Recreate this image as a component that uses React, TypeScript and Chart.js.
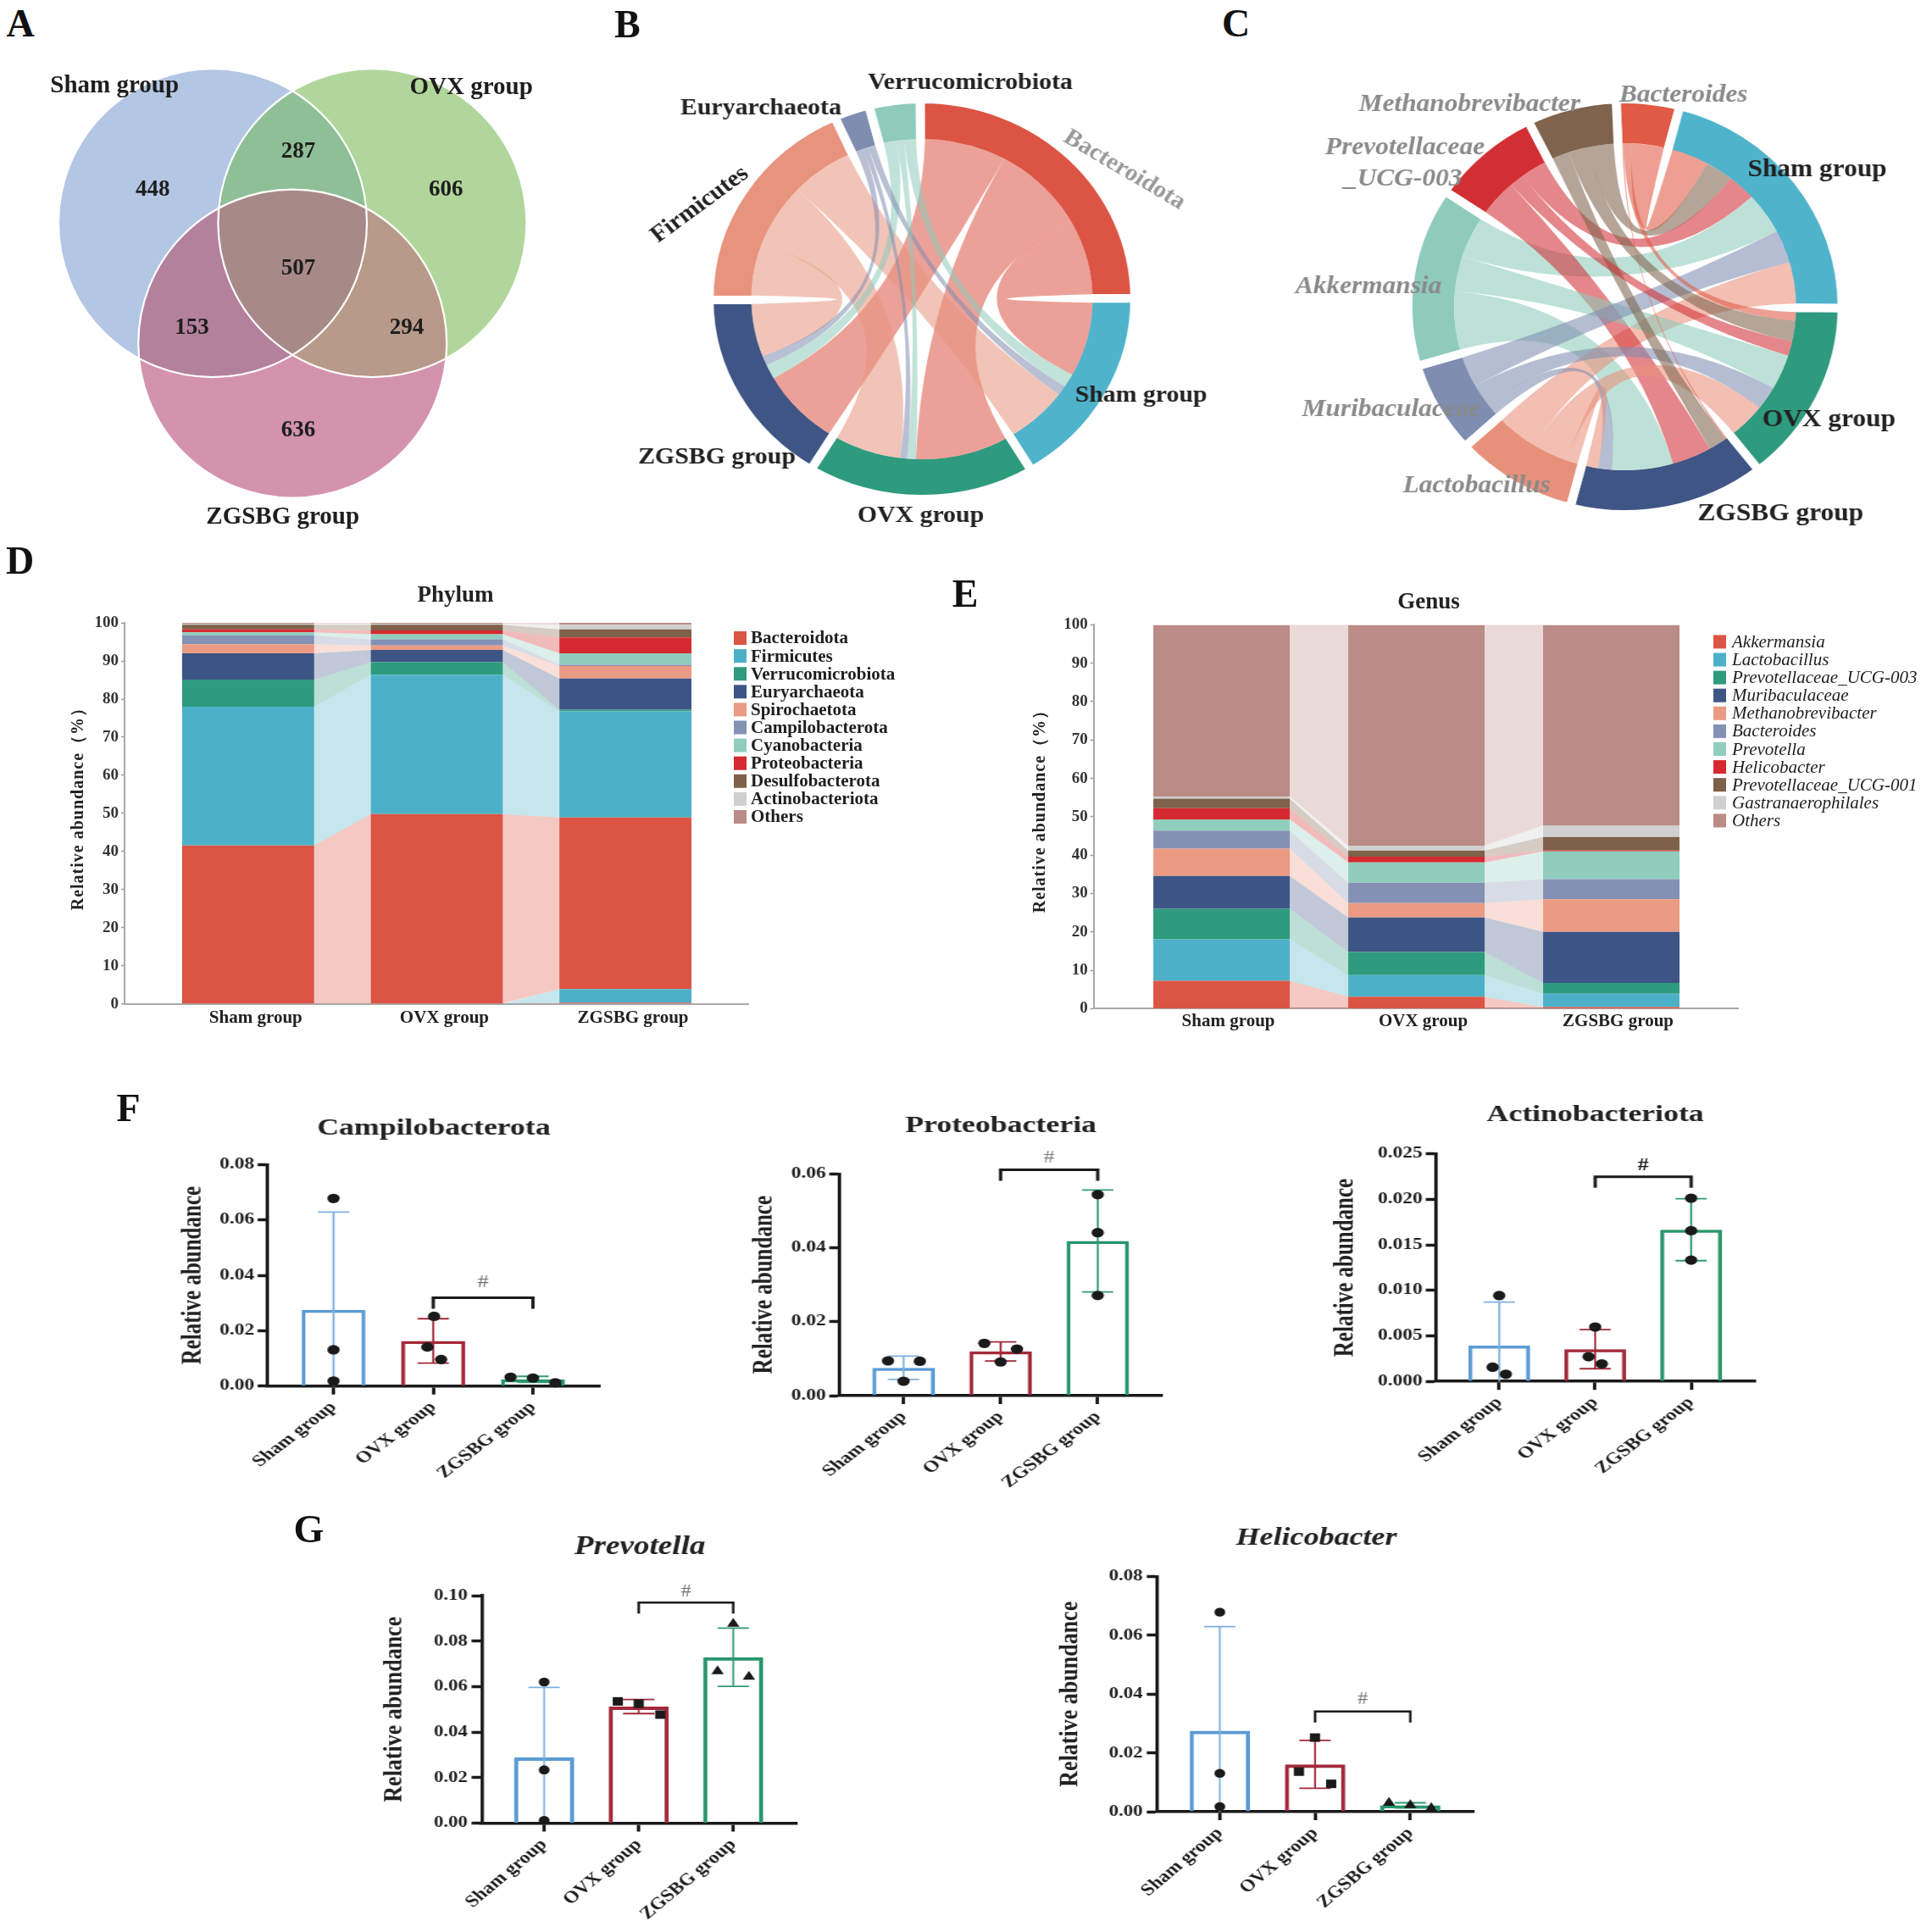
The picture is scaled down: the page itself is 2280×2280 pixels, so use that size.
import React, { useEffect, useRef } from "react";
import { Chart, registerables } from "chart.js";

Chart.register(...registerables);

const SERIF = "'Liberation Serif', 'Times New Roman', Times, serif";
Chart.defaults.font.family = SERIF;
Chart.defaults.color = "#222222";

/* ================= shared categories ================= */
const GROUPS = ["Sham group", "OVX group", "ZGSBG group"];
const GROUP_RING_COLORS = ["#4fb3cb", "#2e9a7e", "#3f5585"];

/* ================= A: Venn ================= */
const VENN_SETS = ["Sham group", "OVX group", "ZGSBG group"];
// regions: Sham only, Sham∩OVX, OVX only, all three, Sham∩ZGSBG, OVX∩ZGSBG, ZGSBG only
const VENN_COUNTS = [448, 287, 606, 507, 153, 294, 636];
const VENN_FILLS = ["#b3c6e3", "#b1d69b", "#d393ad"];
const VENN_PAIR_FILLS = ["#8fbf96", "#b4819d", "#b89a8a"]; // S∩O, S∩Z, O∩Z
const VENN_TRIPLE_FILL = "#a78a88";
// layout (venn units)
const VENN_CENTERS = [[-0.5176, 0], [0.5176, 0], [0, -0.783]];
const VENN_RADIUS = 1.0;
const VENN_COUNT_POS = [[-0.907, 0.213], [0.038, 0.46], [0.995, 0.213], [0.038, -0.298], [-0.652, -0.681], [0.741, -0.681], [0.038, -1.345]];
const VENN_LABEL_POS = [[-1.154, 0.887], [1.159, 0.879], [-0.063, -1.907]];

/* ================= B: phylum chord ================= */
const B_TAXA = ["Bacteroidota", "Verrucomicrobiota", "Euryarchaeota", "Firmicutes"];
const B_TAXA_COLORS = ["#dc5443", "#8ecbba", "#7f8db1", "#e8937d"];
// flows taxon -> [Sham, OVX, ZGSBG]
const B_BACTEROIDOTA = [27.5, 32, 28];
const B_VERRUCO = [5, 3, 5.5];
const B_EURY = [3.5, 2.5, 3.5];
const B_FIRMICUTES = [21.5, 23, 19.5];

/* ================= C: genus chord ================= */
const C_TAXA = ["Bacteroides", "Methanobrevibacter", "Prevotellaceae_UCG-003", "Akkermansia", "Muribaculaceae", "Lactobacillus"];
const C_TAXA_COLORS = ["#e05a45", "#7f634d", "#d22f35", "#8ecbba", "#7f8db1", "#e8917a"];
const C_BACTEROIDES = [12, 3, 0.5];
const C_METHANO = [9, 7, 6];
const C_PREV003 = [9, 5, 13];
const C_AKK = [14, 12, 20];
const C_MURI = [11, 8, 4.5];
const C_LACTO = [14, 12, 4];

/* ================= D: phylum stacked ================= */
const D_PHYLA = ["Bacteroidota", "Firmicutes", "Verrucomicrobiota", "Euryarchaeota", "Spirochaetota", "Campilobacterota", "Cyanobacteria", "Proteobacteria", "Desulfobacterota", "Actinobacteriota", "Others"];
const D_COLORS = ["#dc5443", "#4cb1c8", "#2e9a7e", "#3d5585", "#eb9a83", "#8491b4", "#91cdbd", "#d42a30", "#7e6149", "#d0d0d0", "#bb8b85"];
const D_BASE_BACTEROIDOTA = [0, 0, 0.3];
const D_BASE_FIRMICUTES = [0, 0, 3.6];
const D_BACTEROIDOTA = [41.6, 49.8, 45.0];
const D_FIRMICUTES = [36.4, 36.6, 27.9];
const D_VERRUCO = [7.1, 3.3, 0.4];
const D_EURY = [6.9, 3.2, 8.2];
const D_SPIRO = [2.4, 1.2, 3.3];
const D_CAMPI = [2.3, 1.6, 0.3];
const D_CYANO = [0.8, 1.3, 3.0];
const D_PROTEO = [0.8, 1.0, 4.2];
const D_DESULFO = [1.2, 1.5, 2.1];
const D_ACTINO = [0.3, 0.3, 1.2];
const D_OTHERS = [0.2, 0.2, 0.5];

/* ================= E: genus stacked ================= */
const E_GENERA = ["Akkermansia", "Lactobacillus", "Prevotellaceae_UCG-003", "Muribaculaceae", "Methanobrevibacter", "Bacteroides", "Prevotella", "Helicobacter", "Prevotellaceae_UCG-001", "Gastranaerophilales", "Others"];
const E_COLORS = ["#dc5443", "#4cb1c8", "#2e9a7e", "#3d5585", "#eb9a83", "#8491b4", "#91cdbd", "#d42a30", "#7e6149", "#d0d0d0", "#bb8b85"];
const E_AKK = [7.25, 3.1, 0.4];
const E_LACTO = [10.85, 5.65, 3.5];
const E_P003 = [7.9, 6.0, 2.8];
const E_MURI = [8.6, 9.0, 13.3];
const E_METHANO = [7.1, 3.75, 8.5];
const E_BACTEROIDES = [4.7, 5.3, 5.25];
const E_PREVOTELLA = [2.9, 5.3, 7.25];
const E_HELICO = [2.95, 1.5, 0.25];
const E_P001 = [2.5, 1.6, 3.5];
const E_GASTR = [0.55, 1.3, 3.0];
const E_OTHERS = [44.7, 57.5, 52.25];

/* ================= F/G: per-sample relative abundance ================= */
const BAR_COLORS = ["#5b9bd5", "#a3293a", "#27966a"];
const ERR_COLORS = ["#7fb0de", "#a3293a", "#2e9c70"];
const CAMPI_POINTS = [[0.0678, 0.0131, 0.0018], [0.0252, 0.0141, 0.0096], [0.0032, 0.0029, 0.0012]];
const CAMPI_JITTER = [[0, 0, 0], [0.008, -0.059, 0.079], [-0.224, 0, 0.224]];
const PROTEO_POINTS = [[0.0094, 0.0093, 0.0039], [0.01415, 0.0126, 0.00912], [0.0544, 0.0441, 0.0271]];
const PROTEO_JITTER = [[-0.16, 0.168, 0], [-0.168, 0.168, 0], [0, 0, 0]];
const ACTINO_POINTS = [[0.00943, 0.00156, 0.00078], [0.00598, 0.00271, 0.00193], [0.02014, 0.01656, 0.01333]];
const ACTINO_JITTER = [[0, -0.069, 0.069], [0, -0.069, 0.069], [0, 0, 0]];
const PREVOTELLA_POINTS = [[0.062, 0.0234, 0.0012], [0.0535, 0.0525, 0.0477], [0.0876, 0.0668, 0.0643]];
const PREVOTELLA_JITTER = [[0, 0, 0], [-0.221, 0, 0.228], [0, -0.166, 0.166]];
const HELICO_POINTS = [[0.0679, 0.01304, 0.00174], [0.0252, 0.01362, 0.00947], [0.003, 0.0022, 0.00126]];
const HELICO_JITTER = [[0, 0, 0], [0, -0.169, 0.169], [-0.224, 0, 0.22]];

/* ================= helpers ================= */
function rgba(hex: string, a: number) {
  const n = parseInt(hex.slice(1), 16);
  return `rgba(${(n >> 16) & 255},${(n >> 8) & 255},${n & 255},${a})`;
}
const sum = (a: number[]) => a.reduce((s, v) => s + v, 0);
const mean = (a: number[]) => sum(a) / a.length;
const sd = (a: number[]) => {
  const m = mean(a);
  return Math.sqrt(a.reduce((s, v) => s + (v - m) * (v - m), 0) / (a.length - 1));
};

function drawText(ctx: any, t: any) {
  ctx.save();
  ctx.font = `${t.style || "normal"} ${t.weight || "bold"} ${t.size}px ${SERIF}`;
  ctx.fillStyle = t.color || "#222222";
  ctx.textAlign = t.align || "center";
  ctx.textBaseline = "middle";
  ctx.letterSpacing = `${t.spacing || 0}px`;
  ctx.translate(t.x, t.y);
  if (t.rot) ctx.rotate((t.rot * Math.PI) / 180);
  ctx.fillText(t.text, 0, 0);
  ctx.restore();
}

function textPlugin(id: string, texts: any[]) {
  return {
    id,
    afterDraw(chart: any) {
      texts.forEach((t) => drawText(chart.ctx, t));
    },
  };
}

function baseOptions(padding: any) {
  return {
    responsive: false,
    animation: false,
    devicePixelRatio: 1,
    events: [],
    layout: { padding, autoPadding: false },
    plugins: { legend: { display: false }, tooltip: { enabled: false }, title: { display: false } },
  };
}

// fixed-size axis boxes so the plot area lands exactly where wanted
const fixHeight = (h: number) => (sc: any) => {
  sc.height = h;
  sc.paddingLeft = 0;
  sc.paddingRight = 0;
  sc.paddingTop = 0;
  sc.paddingBottom = 0;
};
const fixWidth = (w: number) => (sc: any) => {
  sc.width = w;
  sc.paddingLeft = 0;
  sc.paddingRight = 0;
  sc.paddingTop = 0;
  sc.paddingBottom = 0;
};

/* ================= A config ================= */
function vennConfig() {
  const vennPlugin = {
    id: "vennCircles",
    beforeDatasetsDraw(chart: any) {
      const { ctx } = chart;
      const xs = chart.scales.x;
      const ys = chart.scales.y;
      const circles = VENN_CENTERS.map(([u, v]) => ({
        cx: xs.getPixelForValue(u),
        cy: ys.getPixelForValue(v),
        r: Math.abs(xs.getPixelForValue(u + VENN_RADIUS) - xs.getPixelForValue(u)),
      }));
      const path = (c: any) => {
        ctx.beginPath();
        ctx.arc(c.cx, c.cy, c.r, 0, Math.PI * 2);
      };
      const overlap = (ids: number[], color: string) => {
        ctx.save();
        ids.slice(0, -1).forEach((i) => {
          path(circles[i]);
          ctx.clip();
        });
        path(circles[ids[ids.length - 1]]);
        ctx.fillStyle = color;
        ctx.fill();
        ctx.restore();
      };
      ctx.save();
      circles.forEach((c, i) => {
        path(c);
        ctx.fillStyle = VENN_FILLS[i];
        ctx.fill();
      });
      overlap([0, 1], VENN_PAIR_FILLS[0]);
      overlap([0, 2], VENN_PAIR_FILLS[1]);
      overlap([1, 2], VENN_PAIR_FILLS[2]);
      overlap([0, 1, 2], VENN_TRIPLE_FILL);
      circles.forEach((c) => {
        path(c);
        ctx.strokeStyle = "#ffffff";
        ctx.lineWidth = 2.2;
        ctx.stroke();
      });
      ctx.restore();
    },
    afterDatasetsDraw(chart: any) {
      const { ctx } = chart;
      const xs = chart.scales.x;
      const ys = chart.scales.y;
      chart.getDatasetMeta(0).data.forEach((pt: any, i: number) => {
        drawText(ctx, { text: String(VENN_COUNTS[i]), x: pt.x, y: pt.y, size: 27, color: "#1e1e1e" });
      });
      VENN_SETS.forEach((name, i) => {
        drawText(ctx, { text: name, x: xs.getPixelForValue(VENN_LABEL_POS[i][0]), y: ys.getPixelForValue(VENN_LABEL_POS[i][1]), size: 29, color: "#1e1e1e" });
      });
    },
  };
  const k = 182; // px per venn unit
  const cx = 345.2;
  const cy = 263.1 - 60;
  return {
    type: "scatter",
    data: { datasets: [{ data: VENN_COUNT_POS.map(([x, y]) => ({ x, y })), pointRadius: 0 }] },
    options: {
      ...baseOptions(0),
      scales: {
        x: { type: "linear", display: false, offset: false, min: -cx / k, max: (680 - cx) / k },
        y: { type: "linear", display: false, offset: false, min: cy / k - 600 / k, max: cy / k },
      },
    },
    plugins: [vennPlugin],
  };
}

/* ================= B/C chord config ================= */
function chordConfig(c: any) {
  const nT = c.taxa.length;
  const taxonTotals = c.flows.map((r: number[]) => sum(r));
  const groupTotals = GROUPS.map((_, g) => c.flows.reduce((s: number, r: number[]) => s + r[g], 0));
  const ring: any[] = [
    { kind: "t", idx: 0 },
    ...GROUPS.map((_, g) => ({ kind: "g", idx: g })),
    ...c.taxa.slice(1).map((_: any, i: number) => ({ kind: "t", idx: nT - 1 - i })),
  ];
  const values = ring.map((r) => (r.kind === "t" ? taxonTotals[r.idx] : groupTotals[r.idx]));
  const colors = ring.map((r) => (r.kind === "t" ? c.taxaColors[r.idx] : GROUP_RING_COLORS[r.idx]));
  const names = ring.map((r) => (r.kind === "t" ? c.taxa[r.idx] : GROUPS[r.idx]));

  const chordPlugin = {
    id: "chordRibbons",
    afterDatasetsDraw(chart: any) {
      const arcs = chart.getDatasetMeta(0).data;
      const ctx = chart.ctx;
      const cx = arcs[0].x;
      const cy = arcs[0].y;
      const r = arcs[0].innerRadius + c.border / 2;
      const da = c.border / 2 / r;
      const src: any[] = [];
      const tgt: any[] = [];
      for (let t = 0; t < nT; t++) {
        src.push([]);
        tgt.push([]);
      }
      ring.forEach((item, i) => {
        const arc = arcs[i];
        let s = arc.startAngle + da;
        const e = arc.endAngle - da;
        const k = (e - s) / values[i];
        if (item.kind === "t") {
          for (let g = GROUPS.length - 1; g >= 0; g--) {
            const w = c.flows[item.idx][g] * k;
            src[item.idx][g] = [s, s + w];
            s += w;
          }
        } else {
          for (let t = 0; t < nT; t++) {
            const w = c.flows[t][item.idx] * k;
            tgt[t][item.idx] = [s, s + w];
            s += w;
          }
        }
      });
      const links: any[] = [];
      for (let t = 0; t < nT; t++) for (let g = 0; g < GROUPS.length; g++) links.push({ t, g, v: c.flows[t][g] });
      links.sort((a, b) => b.v - a.v);
      ctx.save();
      links.forEach((l) => {
        const [s0, s1] = src[l.t][l.g];
        const [t0, t1] = tgt[l.t][l.g];
        ctx.beginPath();
        ctx.arc(cx, cy, r, s0, s1);
        ctx.quadraticCurveTo(cx, cy, cx + r * Math.cos(t0), cy + r * Math.sin(t0));
        ctx.arc(cx, cy, r, t0, t1);
        ctx.quadraticCurveTo(cx, cy, cx + r * Math.cos(s0), cy + r * Math.sin(s0));
        ctx.closePath();
        ctx.fillStyle = rgba(c.taxaColors[l.t], c.alpha);
        ctx.fill();
      });
      ctx.restore();
    },
  };
  return {
    type: "doughnut",
    data: {
      labels: names,
      datasets: [
        {
          data: values,
          backgroundColor: colors,
          borderColor: "#ffffff",
          borderWidth: c.border,
          radius: c.radius,
          cutout: c.cutout,
          rotation: c.rotation,
          hoverOffset: 0,
        },
      ],
    },
    options: baseOptions(c.padding),
    plugins: [chordPlugin, textPlugin("chordLabels", c.labels)],
  };
}

/* ================= D/E stacked config ================= */
function stackConfig(s: any) {
  function mkBar(label: string, vals: number[], color: string) {
    return {
      label,
      data: vals.map((v, k) => ({ x: k + 1, y: v })),
      backgroundColor: color,
      borderWidth: 0,
      categoryPercentage: 1,
      barPercentage: 0.7,
    };
  }
  const datasets: any[] = [];
  (s.base || []).forEach((b: any) => datasets.push(mkBar(b.label, b.values, b.color)));
  s.names.forEach((n: string, i: number) => datasets.push(mkBar(n, s.values[i], s.colors[i])));

  const bandPlugin = {
    id: "alluvialBands",
    beforeDatasetsDraw(chart: any) {
      const ctx = chart.ctx;
      ctx.save();
      chart.data.datasets.forEach((ds: any, i: number) => {
        const els = chart.getDatasetMeta(i).data;
        for (let k = 0; k < els.length - 1; k++) {
          const a = els[k];
          const b = els[k + 1];
          const ax = a.x + a.width / 2;
          const bx = b.x - b.width / 2;
          ctx.beginPath();
          ctx.moveTo(ax, a.y);
          ctx.lineTo(bx, b.y);
          ctx.lineTo(bx, b.base);
          ctx.lineTo(ax, a.base);
          ctx.closePath();
          ctx.fillStyle = rgba(ds.backgroundColor, 0.32);
          ctx.fill();
        }
      });
      ctx.restore();
    },
  };
  const legendPlugin = {
    id: "sideLegend",
    afterDraw(chart: any) {
      const ctx = chart.ctx;
      let row = 0;
      chart.data.datasets.forEach((ds: any) => {
        if (ds.label.startsWith("_")) return;
        const y = s.legend.y0 + row * s.legend.step;
        ctx.fillStyle = ds.backgroundColor;
        ctx.fillRect(s.legend.bx, y - 8, 15, 16);
        drawText(ctx, { text: ds.label, x: s.legend.tx, y: y + 1, size: 21, weight: s.legend.weight, style: s.legend.style, align: "left", color: "#1e1e1e" });
        row++;
      });
    },
  };
  return {
    type: "bar",
    data: { datasets },
    options: {
      ...baseOptions({ left: 0, right: s.padRight, top: s.padTop, bottom: 0 }),
      scales: {
        x: {
          type: "linear",
          stacked: true,
          offset: false,
          min: s.xMin,
          max: s.xMax,
          afterBuildTicks: (sc: any) => {
            sc.ticks = [1, 2, 3].map((v) => ({ value: v }));
          },
          afterFit: fixHeight(s.xH),
          ticks: {
            autoSkip: false,
            minRotation: 0,
            maxRotation: 0,
            padding: s.xPad,
            labelOffset: s.labelOffset,
            font: { size: 21, weight: "bold" },
            color: "#222222",
            callback: (v: any) => GROUPS[Math.round(v) - 1] || "",
          },
          grid: { display: false, drawTicks: false, offset: false },
          border: { display: true, color: "#a9a9a9", width: 2 },
        },
        y: {
          type: "linear",
          stacked: true,
          min: 0,
          max: 100,
          afterFit: fixWidth(s.yW),
          ticks: { stepSize: 10, padding: 3, font: { size: 19, weight: "bold" }, color: "#333333" },
          grid: { display: true, drawOnChartArea: false, drawTicks: true, tickLength: 4, tickWidth: 1.5, tickColor: "#9a9a9a" },
          border: { display: true, color: "#a9a9a9", width: 2 },
        },
      },
    },
    plugins: [bandPlugin, legendPlugin, textPlugin("stackTexts", s.texts)],
  };
}

/* ================= F/G stat config ================= */
function statConfig(p: any) {
  const means = p.points.map(mean);
  const sds = p.points.map(sd);
  const statPlugin = {
    id: "statMarks",
    afterDatasetDraw(chart: any, args: any) {
      if (args.index !== 0) return;
      const ctx = chart.ctx;
      const ys = chart.scales.y;
      ctx.save();
      ctx.lineWidth = 1.8;
      chart.getDatasetMeta(0).data.forEach((bar: any, i: number) => {
        const hi = means[i] + sds[i];
        const lo = means[i] - sds[i];
        const yHi = ys.getPixelForValue(hi);
        const yLo = ys.getPixelForValue(Math.max(lo, 0));
        ctx.strokeStyle = ERR_COLORS[i];
        ctx.beginPath();
        ctx.moveTo(bar.x, yHi);
        ctx.lineTo(bar.x, yLo);
        ctx.moveTo(bar.x - p.cap, yHi);
        ctx.lineTo(bar.x + p.cap, yHi);
        if (lo > 0) {
          ctx.moveTo(bar.x - p.cap, yLo);
          ctx.lineTo(bar.x + p.cap, yLo);
        }
        ctx.stroke();
      });
      ctx.restore();
    },
    afterDraw(chart: any) {
      const ctx = chart.ctx;
      const xs = chart.scales.x;
      const ys = chart.scales.y;
      const x1 = xs.getPixelForValue(2);
      const x2 = xs.getPixelForValue(3);
      const yb = ys.getPixelForValue(p.bracketY);
      ctx.save();
      ctx.strokeStyle = "#1a1a1a";
      ctx.lineWidth = p.bracketWidth;
      ctx.lineJoin = "miter";
      ctx.beginPath();
      ctx.moveTo(x1, yb + 13);
      ctx.lineTo(x1, yb);
      ctx.lineTo(x2, yb);
      ctx.lineTo(x2, yb + 13);
      ctx.stroke();
      ctx.restore();
      drawText(ctx, { text: "#", x: (x1 + x2) / 2, y: yb - p.hashOffset, size: 20, weight: p.hashBold ? "bold" : "normal", color: p.hashColor });
      drawText(ctx, { text: p.title, x: p.titlePos[0], y: p.titlePos[1], size: p.titleSize, style: p.italic ? "italic" : "normal" });
      drawText(ctx, { text: "Relative abundance", x: p.yTitlePos[0], y: p.yTitlePos[1], size: p.yTitleSize, rot: -90 });
    },
  };
  const datasets: any[] = [
    {
      type: "bar",
      data: means.map((m: number, i: number) => ({ x: i + 1, y: m })),
      backgroundColor: "rgba(255,255,255,0)",
      borderColor: BAR_COLORS,
      borderWidth: p.barBorder,
      borderSkipped: "bottom",
      categoryPercentage: 1,
      barPercentage: p.barPct,
      order: 1,
    },
    ...p.points.map((pts: number[], g: number) => ({
      type: "scatter",
      data: pts.map((v, k) => ({ x: g + 1 + p.jitter[g][k], y: v })),
      pointStyle: p.markers[g],
      pointRadius: p.markerRadius[p.markers[g]],
      backgroundColor: "#1a1a1a",
      borderColor: "#1a1a1a",
      borderWidth: 0,
      clip: false,
      order: 0,
    })),
  ];
  return {
    type: "bar",
    data: { datasets },
    options: {
      ...baseOptions({ left: 0, right: p.padRight, top: p.padTop, bottom: 0 }),
      scales: {
        x: {
          type: "linear",
          offset: false,
          min: 0.34,
          max: 3.67,
          afterBuildTicks: (sc: any) => {
            sc.ticks = [1, 2, 3].map((v) => ({ value: v }));
          },
          afterFit: fixHeight(p.xH),
          ticks: {
            autoSkip: false,
            minRotation: 45,
            maxRotation: 45,
            padding: 4,
            font: { size: p.xFont, weight: "bold" },
            color: "#1e1e1e",
            callback: (v: any) => GROUPS[Math.round(v) - 1] || "",
          },
          grid: { display: true, offset: false, drawOnChartArea: false, drawTicks: true, tickLength: 10, tickWidth: p.vLine, tickColor: "#1a1a1a", color: "#1a1a1a" },
          border: { display: true, width: 3.5, color: "#1a1a1a" },
        },
        y: {
          type: "linear",
          min: 0,
          max: p.yMax,
          afterFit: fixWidth(p.yW),
          ticks: {
            stepSize: p.yStep,
            padding: p.yPad,
            font: { size: p.yFont, weight: "bold" },
            color: "#1e1e1e",
            callback: (v: any) => Number(v).toFixed(p.decimals),
          },
          grid: { display: true, drawOnChartArea: false, drawTicks: true, tickLength: p.yTick, tickWidth: 3.5, tickColor: "#1a1a1a", color: "#1a1a1a" },
          border: { display: true, width: p.vLine, color: "#1a1a1a" },
        },
      },
    },
    plugins: [statPlugin],
  };
}

// geometry given in page pixels; converted to the (horizontally stretched) canvas space
function statPanel(key: string, g: any, d: any) {
  const iw = Math.round(g.W / g.sx);
  const toX = (x: number) => (x - g.L) / g.sx;
  const toY = (y: number) => y - g.T;
  const left = toX(g.plot[0]);
  const right = toX(g.plot[1]);
  const top = toY(g.plot[2]);
  const bottom = toY(g.plot[3]);
  return {
    key,
    left: g.L,
    top: g.T,
    iw,
    h: g.h,
    sx: g.sx,
    config: () =>
      statConfig({
        ...d,
        padRight: iw - right,
        padTop: top,
        yW: left,
        xH: g.h - bottom,
        titlePos: [toX(g.title[0]), toY(g.title[1])],
        yTitlePos: [toX(g.yTitleX), (top + bottom) / 2],
        cap: 18.5 / g.sx,
        yTick: 12 / g.sx,
        vLine: 4 / g.sx,
        barBorder: d.barBorder,
      }),
  };
}

/* ================= panels ================= */
const F_STYLE = { barBorder: 3.5, bracketWidth: 3, xFont: 19, yFont: 18, yPad: 3, markers: ["circle", "circle", "circle"], markerRadius: { circle: 5.6 }, italic: false, titleSize: 27.5, yTitleSize: 25 };
const G_STYLE = { barBorder: 4, bracketWidth: 2.5, xFont: 20, yFont: 19, yPad: 4, markers: ["circle", "rect", "triangle"], markerRadius: { circle: 5.3, rect: 7.1, triangle: 7 }, italic: true, yTitleSize: 26 };

const PANELS: any[] = [
  { key: "A", left: 0, top: 60, iw: 680, h: 600, sx: 1, config: () => vennConfig() },
  {
    key: "B", left: 718, top: 53, iw: 695, h: 600, sx: 740 / 695,
    config: () =>
      chordConfig({
        taxa: B_TAXA, taxaColors: B_TAXA_COLORS, flows: [B_BACTEROIDOTA, B_VERRUCO, B_EURY, B_FIRMICUTES],
        border: 10, radius: 236, cutout: "77.97%", rotation: -0.5, alpha: 0.55, padding: 0,
        labels: [
          { text: "Verrucomicrobiota", x: 401, y: 44.5, size: 28 },
          { text: "Euryarchaeota", x: 169, y: 75, size: 28 },
          { text: "Firmicutes", x: 101.4, y: 188.6, size: 28, rot: -38 },
          { text: "Bacteroidota", x: 572, y: 147.6, size: 28, rot: 32, color: "#9a9a9a" },
          { text: "Sham group", x: 590.4, y: 413.8, size: 28 },
          { text: "ZGSBG group", x: 120.2, y: 486.7, size: 28 },
          { text: "OVX group", x: 346.1, y: 556, size: 28 },
        ],
      }),
  },
  {
    key: "C", left: 1510, top: 52, iw: 727, h: 620, sx: 1.046,
    config: () =>
      chordConfig({
        taxa: C_TAXA, taxaColors: C_TAXA_COLORS, flows: [C_BACTEROIDES, C_METHANO, C_PREV003, C_AKK, C_MURI, C_LACTO],
        border: 10, radius: 245, cutout: "76.73%", rotation: -2.35, alpha: 0.58, padding: { left: 53, right: 0, top: 0, bottom: 0 },
        labels: [
          { text: "Bacteroides", x: 456, y: 60.6, size: 30, style: "italic", color: "#8a8a8a" },
          { text: "Methanobrevibacter", x: 214.6, y: 70.9, size: 30, style: "italic", color: "#8a8a8a" },
          { text: "Prevotellaceae", x: 141.5, y: 122, size: 30, style: "italic", color: "#8a8a8a" },
          { text: "_UCG-003", x: 139.3, y: 159, size: 30, style: "italic", color: "#8a8a8a" },
          { text: "Akkermansia", x: 100.4, y: 285.8, size: 30, style: "italic", color: "#8a8a8a" },
          { text: "Muribaculaceae", x: 126.2, y: 431, size: 30, style: "italic", color: "#8a8a8a" },
          { text: "Lactobacillus", x: 222.5, y: 521, size: 30, style: "italic", color: "#8a8a8a" },
          { text: "Sham group", x: 607, y: 148.7, size: 30 },
          { text: "OVX group", x: 620.2, y: 443.5, size: 30 },
          { text: "ZGSBG group", x: 565.6, y: 554, size: 30 },
        ],
      }),
  },
  {
    key: "D", left: 0, top: 680, iw: 1120, h: 560, sx: 1,
    config: () =>
      stackConfig({
        names: D_PHYLA, colors: D_COLORS,
        values: [D_BACTEROIDOTA, D_FIRMICUTES, D_VERRUCO, D_EURY, D_SPIRO, D_CAMPI, D_CYANO, D_PROTEO, D_DESULFO, D_ACTINO, D_OTHERS],
        base: [
          { label: "_Bacteroidota", values: D_BASE_BACTEROIDOTA, color: D_COLORS[0] },
          { label: "_Firmicutes", values: D_BASE_FIRMICUTES, color: D_COLORS[1] },
        ],
        xMin: 0.345, xMax: 3.651, padRight: 237, padTop: 55.1, yW: 147, xH: 55.3, xPad: 4, labelOffset: 9,
        legend: { y0: 73, step: 21.1, bx: 866, tx: 886, weight: "bold", style: "normal" },
        texts: [
          { text: "Phylum", x: 537.5, y: 23, size: 27 },
          { text: "Relative abundance（%）", x: 93, y: 269.6, size: 20, rot: -90, spacing: 1 },
        ],
      }),
  },
  {
    key: "E", left: 1120, top: 690, iw: 1160, h: 560, sx: 1,
    config: () =>
      stackConfig({
        names: E_GENERA, colors: E_COLORS,
        values: [E_AKK, E_LACTO, E_P003, E_MURI, E_METHANO, E_BACTEROIDES, E_PREVOTELLA, E_HELICO, E_P001, E_GASTR, E_OTHERS],
        xMin: 0.344, xMax: 3.652, padRight: 228.5, padTop: 47.4, yW: 170.7, xH: 59.6, xPad: 3, labelOffset: 8,
        legend: { y0: 67.4, step: 21.1, bx: 902, tx: 924, weight: "normal", style: "italic" },
        texts: [
          { text: "Genus", x: 566, y: 21, size: 27 },
          { text: "Relative abundance（%）", x: 107.6, y: 262.6, size: 20, rot: -90, spacing: 1 },
        ],
      }),
  },
  statPanel(
    "F1",
    { L: 130, T: 1290, W: 600, h: 500, sx: 1.3, plot: [315.8, 707.4, 1374.5, 1635.7], title: [511.6, 1332], yTitleX: 228.3 },
    { ...F_STYLE, points: CAMPI_POINTS, jitter: CAMPI_JITTER, yMax: 0.08, yStep: 0.02, decimals: 2, bracketY: 0.0319, hashColor: "#707070", hashBold: false, hashOffset: 17.5, title: "Campilobacterota", barPct: 0.642 }
  ),
  statPanel(
    "F2",
    { L: 830, T: 1290, W: 580, h: 500, sx: 1.3, plot: [990.6, 1372, 1385.4, 1647], title: [1181, 1328.7], yTitleX: 902 },
    { ...F_STYLE, points: PROTEO_POINTS, jitter: PROTEO_JITTER, yMax: 0.06, yStep: 0.02, decimals: 2, bracketY: 0.0611, hashColor: "#808080", hashBold: false, hashOffset: 13.7, title: "Proteobacteria", barPct: 0.644 }
  ),
  statPanel(
    "F3",
    { L: 1560, T: 1270, W: 580, h: 500, sx: 1.3, plot: [1694.5, 2071.4, 1361.8, 1630.2], title: [1882.5, 1316.3], yTitleX: 1587.6 },
    { ...F_STYLE, points: ACTINO_POINTS, jitter: ACTINO_JITTER, yMax: 0.025, yStep: 0.005, decimals: 3, bracketY: 0.02248, hashColor: "#1a1a1a", hashBold: true, hashOffset: 13, title: "Actinobacteriota", barPct: 0.643 }
  ),
  statPanel(
    "G1",
    { L: 440, T: 1790, W: 560, h: 490, sx: 1.2, plot: [568.6, 940.4, 1883, 2151.5], title: [755.3, 1826], yTitleX: 465.4 },
    { ...G_STYLE, points: PREVOTELLA_POINTS, jitter: PREVOTELLA_JITTER, yMax: 0.1, yStep: 0.02, decimals: 2, bracketY: 0.0969, hashColor: "#707070", hashBold: false, hashOffset: 12.5, title: "Prevotella", titleSize: 31, barPct: 0.634 }
  ),
  statPanel(
    "G2",
    { L: 1240, T: 1790, W: 560, h: 490, sx: 1.2, plot: [1365.4, 1740, 1860.5, 2138], title: [1553.7, 1815], yTitleX: 1263 },
    { ...G_STYLE, points: HELICO_POINTS, jitter: HELICO_JITTER, yMax: 0.08, yStep: 0.02, decimals: 2, bracketY: 0.0341, hashColor: "#707070", hashBold: false, hashOffset: 13.8, title: "Helicobacter", titleSize: 30, barPct: 0.634 }
  ),
];

const PANEL_LETTERS: any[] = [
  ["A", 7.6, 43],
  ["B", 725, 44.2],
  ["C", 1442, 43],
  ["D", 7, 677.8],
  ["E", 1123.7, 716.6],
  ["F", 137.5, 1323],
  ["G", 346.6, 1820],
];

function ChartPanel({ p }: { p: any }) {
  const ref = useRef<HTMLCanvasElement | null>(null);
  useEffect(() => {
    const canvas = ref.current as HTMLCanvasElement;
    const chart = new Chart(canvas, p.config());
    return () => chart.destroy();
  }, [p]);
  return (
    <canvas
      ref={ref}
      width={p.iw}
      height={p.h}
      style={{ position: "absolute", left: p.left, top: p.top, width: p.iw * p.sx, height: p.h }}
    />
  );
}

export default function App() {
  useEffect(() => {
    document.body.style.margin = "0";
    document.body.style.overflow = "hidden";
  }, []);
  return (
    <div style={{ position: "absolute", left: 0, top: 0, width: 2280, height: 2280, background: "#ffffff", overflow: "hidden" }}>
      {PANELS.map((p) => (
        <ChartPanel key={p.key} p={p} />
      ))}
      {PANEL_LETTERS.map(([l, x, base]) => (
        <div
          key={l}
          style={{
            position: "absolute",
            left: x,
            top: base - 38.5,
            fontFamily: SERIF,
            fontWeight: "bold",
            fontSize: 46,
            lineHeight: "46px",
            color: "#111111",
          }}
        >
          {l}
        </div>
      ))}
    </div>
  );
}
